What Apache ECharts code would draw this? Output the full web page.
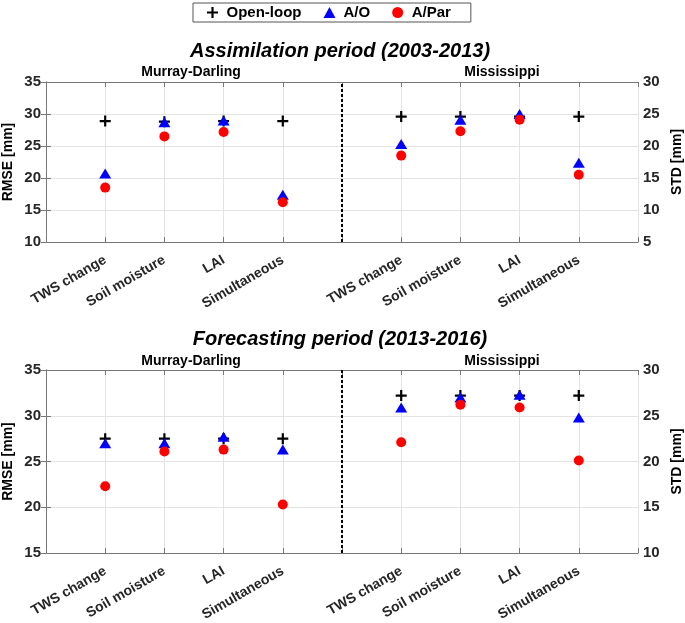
<!DOCTYPE html>
<html>
<head>
<meta charset="utf-8">
<script src="https://cdn.jsdelivr.net/npm/echarts@6/dist/echarts.min.js"></script>
<style>
    html, body { margin: 0; padding: 0; background: #fff; }
    #main { width: 685px; height: 623px; }
</style>
</head>
<body>
<div id="main"></div>
<script>
// categories and x positions (divider sits at 5)
var methods = ['TWS change', 'Soil moisture', 'LAI', 'Simultaneous'];
var mdPos = [1, 2, 3, 4];
var msPos = [6, 7, 8, 9];

// Assimilation period (2003-2013)
var asMdOpen = [28.9, 28.8, 28.9, 28.9];
var asMdAO = [20.7, 28.7, 29.0, 17.4];
var asMdPar = [18.5, 26.5, 27.2, 16.2];
var asMsOpen = [24.6, 24.6, 24.6, 24.6];
var asMsAO = [20.3, 24.1, 25.0, 17.4];
var asMsPar = [18.5, 22.3, 24.1, 15.5];

// Forecasting period (2013-2016)
var fcMdOpen = [27.5, 27.5, 27.5, 27.5];
var fcMdAO = [27.0, 27.0, 27.7, 26.3];
var fcMdPar = [22.3, 26.1, 26.3, 20.3];
var fcMsOpen = [27.2, 27.2, 27.2, 27.2];
var fcMsAO = [25.9, 27.0, 27.3, 24.8];
var fcMsPar = [22.1, 26.2, 25.9, 20.1];

(function () {
    var myechart = echarts.init(document.getElementById('main'), null, { renderer: 'canvas' });
    var fontFam = '"Liberation Sans", Arial, Helvetica, sans-serif';
    var plusPath = 'path://M4,0H6V4H10V6H6V10H4V6H0V4H4Z';

    function toPoints(pos, vals) {
        var pts = [];
        for (var i = 0; i < pos.length; i++) {
            pts.push([pos[i], vals[i]]);
        }
        return pts;
    }

    function xLabel(v) {
        if (v >= 1 && v <= 4) return methods[v - 1];
        if (v >= 6 && v <= 9) return methods[v - 6];
        return '';
    }

    function bottomX(gi) {
        return {
            type: 'value', gridIndex: gi, min: 0, max: 10, interval: 1, position: 'bottom',
            axisLine: { lineStyle: { color: '#777', width: 1 } },
            axisTick: { inside: true, length: 5, lineStyle: { color: '#777' } },
            splitLine: { show: true, lineStyle: { color: '#e3e3e3', width: 1 } },
            axisLabel: {
                formatter: xLabel, rotate: 30, margin: 17, color: '#262626',
                fontSize: 14, fontWeight: 'bold', fontFamily: fontFam,
                showMinLabel: true, showMaxLabel: true
            }
        };
    }

    function topX(gi) {
        return {
            type: 'value', gridIndex: gi, min: 0, max: 10, interval: 1, position: 'top',
            axisLine: { lineStyle: { color: '#777', width: 1 } },
            axisTick: { inside: true, length: 5, lineStyle: { color: '#777' } },
            splitLine: { show: false },
            axisLabel: { show: false }
        };
    }

    function yAx(gi, pos, min, max, name, split) {
        return {
            type: 'value', gridIndex: gi, position: pos, min: min, max: max, interval: 5,
            name: name, nameLocation: 'middle', nameRotate: 90, nameGap: pos === 'left' ? 31 : 32,
            nameMoveOverlap: false,
            nameTextStyle: { color: '#000', fontSize: 14, fontWeight: 'bold', fontFamily: fontFam },
            axisLine: { show: true, lineStyle: { color: '#777', width: 1 } },
            axisTick: { show: true, inside: true, length: 5, lineStyle: { color: '#777' } },
            splitLine: { show: split, lineStyle: { color: '#e3e3e3', width: 1 } },
            axisLabel: { color: '#262626', fontSize: 15, fontWeight: 'bold', fontFamily: fontFam, margin: 5 }
        };
    }

    function mkSeries(name, gi, yi, pos, vals) {
        var s = {
            name: name, type: 'scatter', xAxisIndex: gi * 2, yAxisIndex: yi,
            data: toPoints(pos, vals), z: 3
        };
        if (name === 'Open-loop') {
            s.symbol = plusPath; s.symbolSize = 11; s.itemStyle = { color: '#000', opacity: 1 };
        } else if (name === 'A/O') {
            s.symbol = 'triangle'; s.symbolSize = [12, 10]; s.itemStyle = { color: '#0000ff', opacity: 1 };
        } else {
            s.symbol = 'circle'; s.symbolSize = 10; s.itemStyle = { color: '#ff0000', opacity: 1 };
        }
        return s;
    }

    // 两个面板的系列
    var series = [];
    var panels = [
        [asMdOpen, asMdAO, asMdPar, asMsOpen, asMsAO, asMsPar],
        [fcMdOpen, fcMdAO, fcMdPar, fcMsOpen, fcMsAO, fcMsPar]
    ];
    var names = ['Open-loop', 'A/O', 'A/Par'];
    for (var g = 0; g < panels.length; g++) {
        for (var k = 0; k < 3; k++) {
            series.push(mkSeries(names[k], g, g * 2, mdPos, panels[g][k]));
            series.push(mkSeries(names[k], g, g * 2 + 1, msPos, panels[g][k + 3]));
        }
        // dashed divider between basins
        series[series.length - 1].markLine = {
            silent: true, symbol: 'none', label: { show: false },
            lineStyle: { color: '#000', type: [3, 2], width: 2, opacity: 1 },
            data: [{ xAxis: 5 }]
        };
    }

    var titleFont = { fontSize: 20, fontWeight: 'bold', fontStyle: 'italic', color: '#000', fontFamily: fontFam };
    var basinFont = { fontSize: 14, fontWeight: 'bold', color: '#000', fontFamily: fontFam };

    var options = {
        animation: false,
        backgroundColor: '#fff',
        title: [
            { text: 'Assimilation period (2003-2013)', left: 335, top: 36, textAlign: 'center', textStyle: titleFont },
            { text: 'Murray-Darling', left: 186, top: 60, textAlign: 'center', textStyle: basinFont },
            { text: 'Mississippi', left: 497, top: 60, textAlign: 'center', textStyle: basinFont },
            { text: 'Forecasting period (2013-2016)', left: 335, top: 324, textAlign: 'center', textStyle: titleFont },
            { text: 'Murray-Darling', left: 186, top: 349, textAlign: 'center', textStyle: basinFont },
            { text: 'Mississippi', left: 497, top: 349, textAlign: 'center', textStyle: basinFont }
        ],
        legend: {
            data: names, left: 193, top: 3,
            orient: 'horizontal', padding: [2, 20, 2, 14], itemGap: 22,
            itemWidth: 12, itemHeight: 11,
            borderColor: '#555', borderWidth: 1,
            textStyle: { fontSize: 15, fontWeight: 'bold', color: '#000', fontFamily: fontFam, padding: [0, 0, 0, 3] }
        },
        grid: [
            { left: 46, right: 47, top: 82, height: 160, outerBoundsMode: 'none' },
            { left: 46, right: 47, top: 370, height: 183, outerBoundsMode: 'none' }
        ],
        xAxis: [bottomX(0), topX(0), bottomX(1), topX(1)],
        yAxis: [
            yAx(0, 'left', 10, 35, 'RMSE [mm]', true),
            yAx(0, 'right', 5, 30, 'STD [mm]', false),
            yAx(1, 'left', 15, 35, 'RMSE [mm]', true),
            yAx(1, 'right', 10, 30, 'STD [mm]', false)
        ],
        series: series
    };
    myechart.setOption(options);
})();
</script>
</body>
</html>
